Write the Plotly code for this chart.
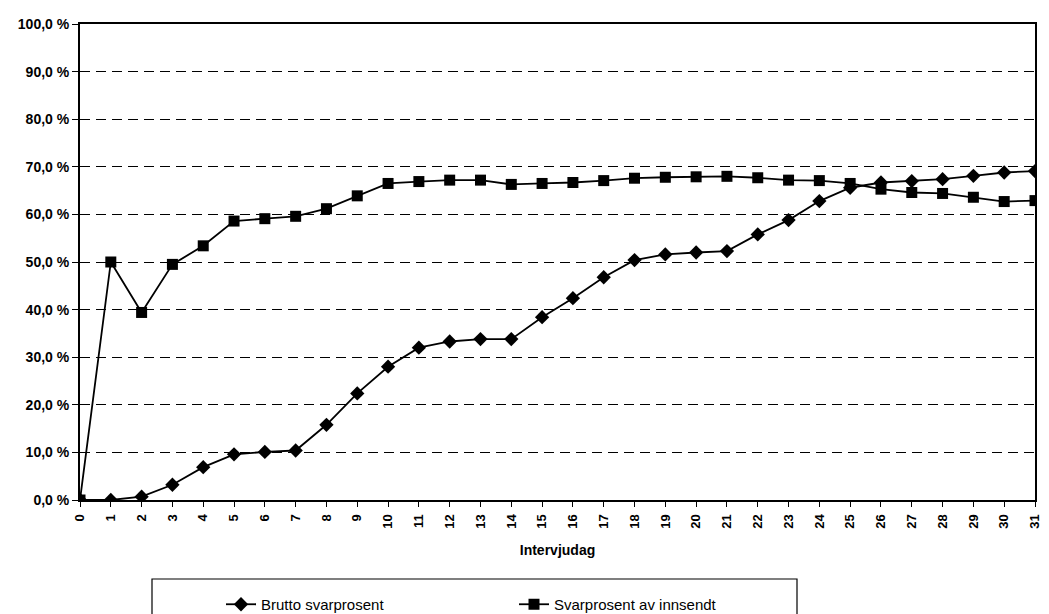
import plotly.graph_objects as go

days = list(range(0, 32))
brutto = [0.0, 0.0, 0.7, 3.2, 6.9, 9.6, 10.1, 10.4, 15.8, 22.4, 28.0, 32.0, 33.3, 33.8,
          33.8, 38.4, 42.4, 46.8, 50.4, 51.6, 52.0, 52.3, 55.8, 58.8, 62.8, 65.6,
          66.7, 67.0, 67.4, 68.1, 68.8, 69.1]
innsendt = [0.0, 50.0, 39.4, 49.5, 53.4, 58.6, 59.1, 59.6, 61.2, 63.9, 66.5, 66.9, 67.2, 67.2,
            66.3, 66.5, 66.7, 67.1, 67.6, 67.8, 67.9, 68.0, 67.7, 67.2, 67.1, 66.5,
            65.3, 64.6, 64.4, 63.6, 62.7, 62.9]
ytick_vals = [0, 10, 20, 30, 40, 50, 60, 70, 80, 90, 100]
ytick_text = ["0,0 %", "10,0 %", "20,0 %", "30,0 %", "40,0 %", "50,0 %",
              "60,0 %", "70,0 %", "80,0 %", "90,0 %", "100,0 %"]
names = ["Brutto svarprosent", "Svarprosent av innsendt"]

FONT = "Liberation Sans, Arial, sans-serif"
W, H = 1049, 614
OFF = 8  # page body margin
L, R, T, B = 72, 22, 16, 122
PW = W - L - R
PH = H - T - B


def px_x(sx):
    return (sx - OFF - L) / PW


def px_y(sy):
    return (T + PH - (sy - OFF)) / PH


fig = go.Figure()
fig.add_trace(go.Scatter(
    x=days, y=innsendt, name=names[1], mode="lines+markers",
    line=dict(color="black", width=1.8),
    marker=dict(symbol="square", size=11, color="black"),
    legendrank=2))
fig.add_trace(go.Scatter(
    x=days, y=brutto, name=names[0], mode="lines+markers",
    line=dict(color="black", width=1.8),
    marker=dict(symbol="diamond", size=11, color="black"),
    legendrank=1))

# legend frame
fig.add_shape(type="rect", xref="paper", yref="paper",
              x0=px_x(152), x1=px_x(797),
              y0=px_y(650), y1=px_y(579),
              line=dict(color="black", width=1.2), fillcolor="rgba(0,0,0,0)")

fig.update_layout(
    width=W, height=H,
    margin=dict(l=L, r=R, t=T, b=B),
    paper_bgcolor="white", plot_bgcolor="white",
    font=dict(family=FONT, color="black", size=12),
    showlegend=True,
    legend=dict(orientation="h", xref="container", yref="container",
                x=(221 - OFF) / W, xanchor="left",
                y=1 - (588 - OFF) / H, yanchor="top",
                entrywidth=248, entrywidthmode="pixels",
                bgcolor="rgba(0,0,0,0)", borderwidth=0,
                font=dict(family=FONT, size=15, color="black"),
                traceorder="normal"),
    xaxis=dict(range=[0, 31], tickmode="array", tickvals=days,
               ticktext=[str(d) for d in days], tickangle=-90,
               showgrid=False, zeroline=False, automargin=False,
               showline=True, linecolor="black", linewidth=2, mirror=True,
               ticks="outside", ticklen=5, tickcolor="black",
               ticklabelstandoff=2,
               tickfont=dict(family=FONT, size=13, color="black", weight="bold"),
               title=dict(text="<b>Intervjudag</b>", standoff=18,
                          font=dict(family=FONT, size=14, color="black"))),
    yaxis=dict(range=[0, 100], tickmode="array", tickvals=ytick_vals,
               ticktext=ytick_text, automargin=False,
               showgrid=True, gridcolor="black", gridwidth=1.3, griddash="10px,6px",
               zeroline=False,
               showline=True, linecolor="black", linewidth=2, mirror=True,
               ticks="outside", ticklen=6, tickcolor="black",
               tickfont=dict(family=FONT, size=14, color="black", weight="bold")),
)

fig.write_html("out.html")
